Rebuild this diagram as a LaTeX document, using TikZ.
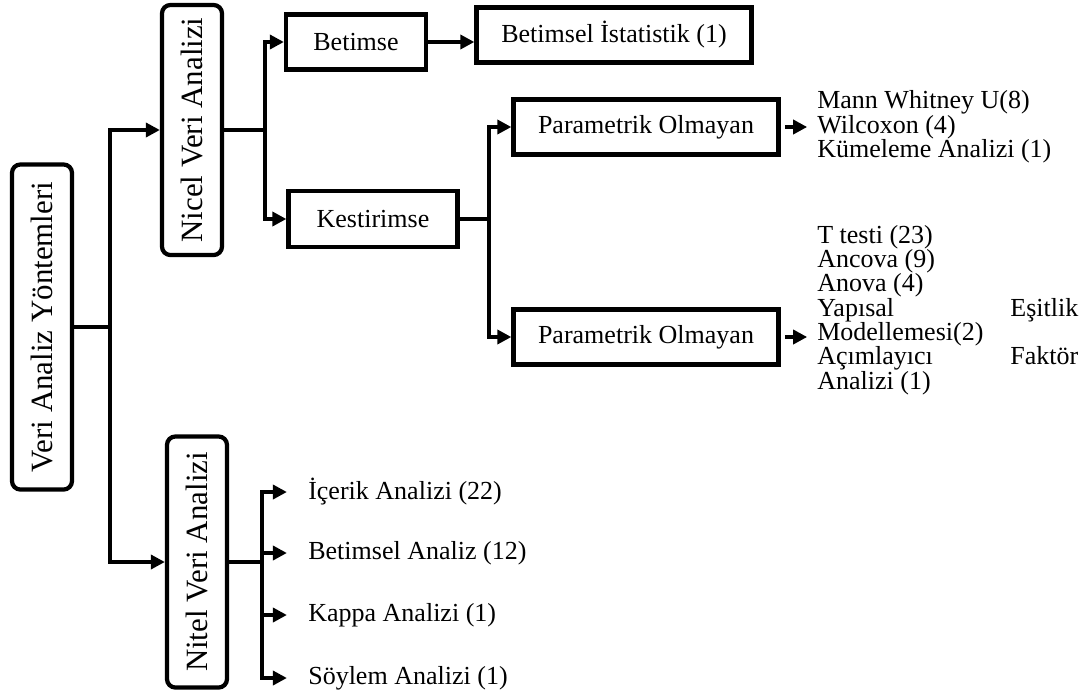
\documentclass[tikz,border=0pt]{standalone}
\usepackage{fontspec}
\setmainfont{Liberation Serif}
\usepackage{graphicx}
\usetikzlibrary{arrows.meta, calc}
\newcommand{\diagfont}{\fontsize{18.5}{17.3}\selectfont}
\newcommand{\sidefont}{\fontsize{22}{26}\selectfont}

\begin{document}
\begin{tikzpicture}[x=0.025cm, y=-0.025cm,
    box/.style={draw, line width=3pt, inner sep=0pt, font=\diagfont},
    sidebox/.style={box, rounded corners=6pt, minimum width=1.5cm, font=\sidefont},
    link/.style={line width=3pt},
    arrow/.style={link, -{Triangle[length=10pt, width=10pt]}},
    leaf/.style={anchor=west, inner sep=0pt, font=\diagfont},
    list/.style={leaf, align=left}
]
    \useasboundingbox (0,0) rectangle (1084,699);

    % Main box
    \node[sidebox, minimum height=8.125cm] (veri) at (42,327) {\rotatebox{90}{Veri Analiz Yöntemleri}};

    % Nicel / Nitel
    \node[sidebox, minimum height=6.25cm] (nicel) at (192,130) {\rotatebox{90}{Nicel Veri Analizi}};
    \node[sidebox, minimum height=6.275cm] (nitel) at (197,562) {\rotatebox{90}{Nitel Veri Analizi}};

    % Nicel branch
    \node[box, minimum width=3.5cm, minimum height=1.375cm] (betimse) at (356,42) {Betimse};
    \node[box, minimum width=6.875cm, minimum height=1.375cm] (betist) at (614,35) {Betimsel İstatistik (1)};
    \node[box, minimum width=4.225cm, minimum height=1.4cm] (kestir) at (373,219) {Kestirimse};
    \node[box, minimum width=6.625cm, minimum height=1.375cm] (parA) at (646,127) {Parametrik Olmayan};
    \node[box, minimum width=6.625cm, minimum height=1.375cm] (parB) at (646,337) {Parametrik Olmayan};

    % Test lists
    \node[list] (listA) at (817,127) {Mann Whitney U(8)\\Wilcoxon (4)\\Kümeleme Analizi (1)};
    \node[list] (listB) at (817,310) {T testi (23)\\Ancova (9)\\Anova (4)\\\makebox[6.525cm][s]{Yapısal Eşitlik}\\Modellemesi(2)\\\makebox[6.525cm][s]{Açımlayıcı Faktör}\\Analizi (1)};

    % Nitel leaves
    \foreach \n/\y/\t in {icerik/492/İçerik Analizi (22), betan/553/Betimsel Analiz (12), kappa/615/Kappa Analizi (1), soylem/678/Söylem Analizi (1)}
        \node[leaf] (\n) at (308,\y) {\t};

    % Forks
    \coordinate (fA) at (110,327);
    \coordinate (fB) at (265,130);
    \coordinate (fC) at (489,219);
    \coordinate (fD) at (262,562);

    \draw[link] (veri.east) -- (fA);
    \draw[arrow] (fA) |- (nicel.west);
    \draw[arrow] (fA) |- (nitel.west);

    \draw[link] (nicel.east) -- (fB);
    \draw[arrow] (fB) |- (betimse.west);
    \draw[arrow] (fB) |- (kestir.west);
    \draw[arrow] (betimse.east) -- (betimse.east -| betist.west);

    \draw[link] (kestir.east) -- (fC);
    \draw[arrow] (fC) |- (parA.west);
    \draw[arrow] (fC) |- (parB.west);

    \draw[arrow, shorten <=3pt, shorten >=7pt] (parA.east) -- (parA.east -| listA.west);
    \draw[arrow, shorten <=3pt, shorten >=7pt] (parB.east) -- (parB.east -| listB.west);

    \draw[link] (nitel.east) -- (fD);
    \foreach \n in {icerik, betan, kappa, soylem}
        \draw[arrow, shorten >=15pt] (fD) |- (\n.west);

\end{tikzpicture}
\end{document}
